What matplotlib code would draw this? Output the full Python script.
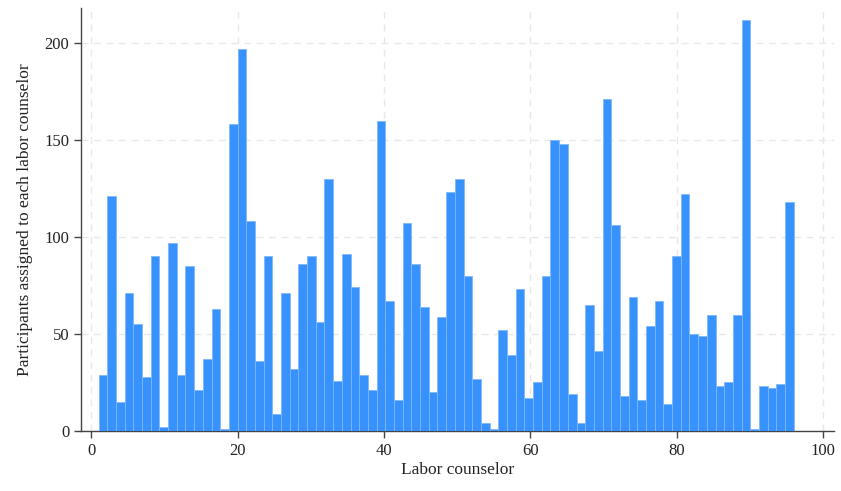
import numpy as np
import matplotlib.pyplot as plt

# Number of participants per histogram bin of labor counselor id (80 bins over 1..96)
counts = [29, 121, 15, 71, 55, 28, 90, 2, 97, 29,
          85, 21, 37, 63, 1, 158, 197, 108, 36, 90,
          9, 71, 32, 86, 90, 56, 130, 26, 91, 74,
          29, 21, 160, 67, 16, 107, 86, 64, 20, 59,
          123, 130, 80, 27, 4, 1, 52, 39, 73, 17,
          25, 80, 150, 148, 19, 4, 65, 41, 171, 106,
          18, 69, 16, 54, 67, 14, 90, 122, 50, 49,
          60, 23, 25, 60, 212, 1, 23, 22, 24, 118]
id_min, id_max = 1, 96
x_ticks = [0, 20, 40, 60, 80, 100]
y_ticks = [0, 50, 100, 150, 200]

edges = np.linspace(id_min, id_max, len(counts) + 1)

plt.rcParams['font.family'] = ['Liberation Serif', 'DejaVu Serif']

fig = plt.figure(figsize=(8.41, 4.91), dpi=100)
ax = fig.add_axes([0.0963, 0.1222, 0.8954, 0.8615])

ax.bar(edges[:-1], counts, width=np.diff(edges), align='edge',
       color='#3792fe', edgecolor='#7fb8fe', linewidth=0.6, zorder=3)

ax.set_xlim(-1.4, 101.5)
ax.set_ylim(0, 218)
ax.set_xticks(x_ticks)
ax.set_yticks(y_ticks)
ax.grid(True, color='#e8e8e8', linestyle=(0, (5, 4)), linewidth=1.0, zorder=0)

for side in ['top', 'right']:
    ax.spines[side].set_visible(False)
for side in ['left', 'bottom']:
    ax.spines[side].set_color('#444444')
    ax.spines[side].set_linewidth(1.0)

ax.tick_params(direction='out', length=5, width=1, color='#444444',
               labelsize=12, labelcolor='#222222')
ax.set_xlabel('Labor counselor', fontsize=12.5, color='#222222', labelpad=2)
ax.set_ylabel('Participants assigned to each labor counselor', fontsize=12.5,
              color='#222222', labelpad=8)

plt.savefig('out.png', dpi=100)
